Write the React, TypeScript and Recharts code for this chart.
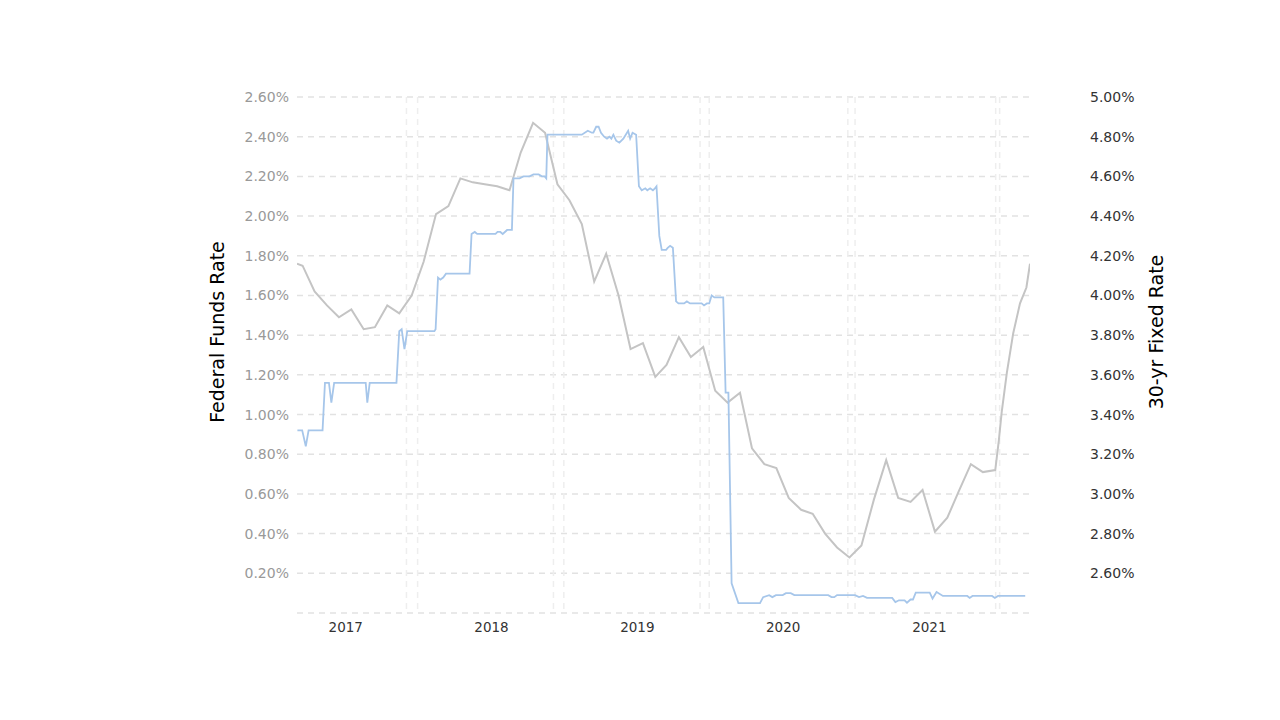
import React from 'react';
import { LineChart, Line, XAxis, YAxis, CartesianGrid } from 'recharts';

// Federal Funds Rate (left axis)
const fundsDates = [
  '2016-09-02', '2016-09-14', '2016-09-23', '2016-09-30', '2016-11-04', '2016-11-10', '2016-11-20', '2016-11-26',
  '2016-12-03', '2017-02-20', '2017-02-24', '2017-03-02', '2017-05-08', '2017-05-15', '2017-05-21', '2017-05-28',
  '2017-06-04', '2017-08-11', '2017-08-14', '2017-08-20', '2017-08-26', '2017-09-02', '2017-09-09', '2017-09-16',
  '2017-11-07', '2017-11-12', '2017-11-20', '2017-11-26', '2018-01-11', '2018-01-16', '2018-01-23', '2018-01-29',
  '2018-02-09', '2018-02-21', '2018-02-25', '2018-03-12', '2018-03-22', '2018-03-29', '2018-04-06', '2018-04-16',
  '2018-04-29', '2018-05-07', '2018-05-14', '2018-05-18', '2018-05-21', '2018-08-15', '2018-08-30', '2018-09-09',
  '2018-09-13', '2018-09-20', '2018-09-26', '2018-10-02', '2018-10-10', '2018-10-17', '2018-10-23', '2018-10-28',
  '2018-11-02', '2018-11-09', '2018-11-17', '2018-11-27', '2018-12-09', '2018-12-14', '2018-12-20', '2018-12-29',
  '2019-01-05', '2019-01-12', '2019-01-21', '2019-01-26', '2019-02-02', '2019-02-09', '2019-02-14', '2019-02-18',
  '2019-02-25', '2019-03-03', '2019-03-14', '2019-03-18', '2019-03-24', '2019-03-31', '2019-04-08', '2019-04-14',
  '2019-04-28', '2019-05-05', '2019-05-13', '2019-06-11', '2019-06-17', '2019-06-24', '2019-06-30', '2019-07-06',
  '2019-07-13', '2019-08-04', '2019-08-10', '2019-08-17', '2019-08-25', '2019-09-11', '2019-11-04', '2019-11-12',
  '2019-11-27', '2019-12-05', '2019-12-14', '2019-12-31', '2020-01-08', '2020-01-20', '2020-01-29', '2020-04-23',
  '2020-05-01', '2020-05-08', '2020-05-15', '2020-06-29', '2020-07-09', '2020-07-19', '2020-07-29', '2020-09-30',
  '2020-10-08', '2020-10-17', '2020-10-31', '2020-11-06', '2020-11-15', '2020-11-21', '2020-11-28', '2021-01-02',
  '2021-01-09', '2021-01-19', '2021-02-04', '2021-04-06', '2021-04-12', '2021-04-19', '2021-06-07', '2021-06-14',
  '2021-06-22', '2021-08-29',
];
const fundsValues = [
  0.92, 0.92, 0.84, 0.92, 0.92, 1.16, 1.16, 1.06,
  1.16, 1.16, 1.06, 1.16, 1.16, 1.42, 1.43, 1.33,
  1.42, 1.42, 1.43, 1.69, 1.68, 1.69, 1.71, 1.71,
  1.71, 1.91, 1.92, 1.91, 1.91, 1.92, 1.92, 1.91,
  1.93, 1.93, 2.19, 2.19, 2.2, 2.2, 2.2, 2.21,
  2.21, 2.2, 2.2, 2.19, 2.41, 2.41, 2.43, 2.42,
  2.42, 2.45, 2.45, 2.42, 2.4, 2.39, 2.4, 2.39,
  2.41, 2.38, 2.37, 2.39, 2.43, 2.39, 2.42, 2.41,
  2.15, 2.13, 2.14, 2.13, 2.14, 2.13, 2.14, 2.15,
  1.9, 1.83, 1.83, 1.84, 1.85, 1.84, 1.57, 1.56,
  1.56, 1.57, 1.56, 1.56, 1.55, 1.56, 1.56, 1.6,
  1.59, 1.59, 1.11, 1.11, 0.15, 0.05, 0.05, 0.08,
  0.09, 0.08, 0.09, 0.09, 0.1, 0.1, 0.09, 0.09,
  0.08, 0.08, 0.09, 0.09, 0.08, 0.086, 0.076, 0.076,
  0.055, 0.064, 0.064, 0.052, 0.068, 0.068, 0.103, 0.103,
  0.073, 0.106, 0.086, 0.086, 0.076, 0.086, 0.086, 0.076,
  0.086, 0.086,
];

// 30-yr Fixed Rate (right axis)
const fixedDates = [
  '2016-09-01', '2016-09-15', '2016-10-15', '2016-11-15', '2016-12-15',
  '2017-01-15', '2017-02-15', '2017-03-15', '2017-04-15', '2017-05-15', '2017-06-15',
  '2017-07-15', '2017-08-15', '2017-09-15', '2017-10-15', '2017-11-15', '2017-12-15',
  '2018-01-15', '2018-02-15', '2018-03-15', '2018-04-15', '2018-05-15', '2018-06-15',
  '2018-07-15', '2018-08-15', '2018-09-15', '2018-10-15', '2018-11-15', '2018-12-15',
  '2019-01-15', '2019-02-15', '2019-03-15', '2019-04-15', '2019-05-15', '2019-06-15',
  '2019-07-15', '2019-08-15', '2019-09-15', '2019-10-15', '2019-11-15', '2019-12-15',
  '2020-01-15', '2020-02-15', '2020-03-15', '2020-04-15', '2020-05-15', '2020-06-15',
  '2020-07-15', '2020-08-15', '2020-09-15', '2020-10-15', '2020-11-15', '2020-12-15',
  '2021-01-15', '2021-02-15', '2021-03-15', '2021-04-15', '2021-05-15', '2021-06-15',
  '2021-06-24', '2021-07-01', '2021-07-14', '2021-07-30', '2021-08-16', '2021-09-01', '2021-09-10',
];
const fixedValues = [
  4.16, 4.15, 4.02, 3.95, 3.89,
  3.93, 3.83, 3.84, 3.95, 3.91, 4.0,
  4.17, 4.41, 4.45, 4.59, 4.57, 4.56,
  4.55, 4.53, 4.72, 4.87, 4.82, 4.56,
  4.48, 4.36, 4.07, 4.21, 4.0, 3.73,
  3.76, 3.59, 3.65, 3.79, 3.69, 3.74,
  3.52, 3.46, 3.51, 3.23, 3.15, 3.13,
  2.98, 2.92, 2.9, 2.8, 2.73, 2.68,
  2.74, 2.97, 3.17, 2.98, 2.96, 3.02,
  2.81, 2.88, 3.01, 3.15, 3.11, 3.12,
  3.27, 3.41, 3.61, 3.81, 3.96, 4.04, 4.16,
];

const yearTicks = ['2017-01-01', '2018-01-01', '2019-01-01', '2020-01-01', '2021-01-01'];
const gridDates = [
  '2017-06-02', '2017-06-30', '2018-06-05', '2018-07-01', '2019-06-07',
  '2019-06-30', '2020-06-11', '2020-06-29', '2021-06-16', '2021-06-26',
];
const leftTicks = [0, 0.2, 0.4, 0.6, 0.8, 1.0, 1.2, 1.4, 1.6, 1.8, 2.0, 2.2, 2.4, 2.6];
const rightTicks = [2.4, 2.6, 2.8, 3.0, 3.2, 3.4, 3.6, 3.8, 4.0, 4.2, 4.4, 4.6, 4.8, 5.0];
const domainStart = '2016-09-01';
const domainEnd = '2021-09-10';

const ts = (d: string) => {
  const [y, m, dd] = d.split('-').map(Number);
  return Date.UTC(y, m - 1, dd);
};

const fundsData = fundsDates.map((d, i) => ({ t: ts(d), v: fundsValues[i] }));
const fixedData = fixedDates.map((d, i) => ({ t: ts(d), v: fixedValues[i] }));

const FONT = '"DejaVu Sans", Verdana, sans-serif';

const AxisTitle = (props: any) => {
  const { viewBox, text, dx } = props;
  const cx = viewBox.x + dx;
  const cy = viewBox.y + viewBox.height / 2 - 23;
  return (
    <text
      x={cx}
      y={cy}
      transform={`rotate(-90, ${cx}, ${cy})`}
      textAnchor="middle"
      dominantBaseline="central"
      fontSize={19}
      fill="#000"
      fontFamily={FONT}
    >
      {text}
    </text>
  );
};

// Map grid dates onto the plot area using the chart's offset and the x domain.
const verticalGridFromAxis = (props: any) => {
  const off = props?.offset;
  const s = props?.xAxis?.scale;
  return gridDates.map((d) => {
    const t = ts(d);
    if (typeof s === 'function') return s(t);
    if (s && typeof s.map === 'function') return s.map(t);
    const t0 = ts(domainStart);
    const t1 = ts(domainEnd);
    return off.left + ((t - t0) / (t1 - t0)) * off.width;
  });
};

export default function App() {
  return (
    <LineChart
      width={1264}
      height={704}
      margin={{ top: 89, right: 82, bottom: 69, left: 209 }}
    >
      <CartesianGrid
        yAxisId="left"
        xAxisId="main"
        vertical={false}
        stroke="#e2e2e2"
        strokeDasharray="6 5"
        strokeWidth={1.5}
      />
      <CartesianGrid
        yAxisId="left"
        xAxisId="main"
        horizontal={false}
        verticalCoordinatesGenerator={verticalGridFromAxis}
        stroke="#eeeeee"
        strokeDasharray="6 5"
        strokeWidth={1.5}
      />
      <XAxis
        xAxisId="main"
        dataKey="t"
        type="number"
        scale="time"
        domain={[ts(domainStart), ts(domainEnd)]}
        ticks={yearTicks.map(ts)}
        interval={0}
        tickFormatter={(v: number) => String(new Date(v).getUTCFullYear())}
        axisLine={false}
        tickLine={false}
        tickMargin={3}
        tick={{ fill: '#333', fontSize: 13.5, fontFamily: FONT }}
        allowDataOverflow
      />
      <YAxis
        yAxisId="left"
        orientation="left"
        width={80}
        domain={[0, 2.6]}
        ticks={leftTicks}
        interval={0}
        tickFormatter={(v: number) => (v === 0 ? '' : v.toFixed(2) + '%')}
        axisLine={false}
        tickLine={false}
        tick={{ fill: '#999', fontSize: 14, fontFamily: FONT }}
        label={<AxisTitle text="Federal Funds Rate" dx={0} />}
      />
      <YAxis
        yAxisId="right"
        orientation="right"
        width={160}
        domain={[2.4, 5.0]}
        ticks={rightTicks}
        interval={0}
        tickFormatter={(v: number) => (Math.abs(v - 2.4) < 1e-9 ? '' : v.toFixed(2) + '%')}
        axisLine={false}
        tickLine={false}
        tickMargin={54}
        tick={{ fill: '#333', fontSize: 14, fontFamily: FONT }}
        label={<AxisTitle text="30-yr Fixed Rate" dx={126} />}
      />
      <Line
        data={fixedData}
        xAxisId="main"
        yAxisId="right"
        dataKey="v"
        type="linear"
        stroke="#c4c4c4"
        strokeWidth={2}
        dot={false}
        activeDot={false}
        isAnimationActive={false}
      />
      <Line
        data={fundsData}
        xAxisId="main"
        yAxisId="left"
        dataKey="v"
        type="linear"
        stroke="#a6c6ea"
        strokeWidth={1.8}
        dot={false}
        activeDot={false}
        isAnimationActive={false}
      />
    </LineChart>
  );
}
